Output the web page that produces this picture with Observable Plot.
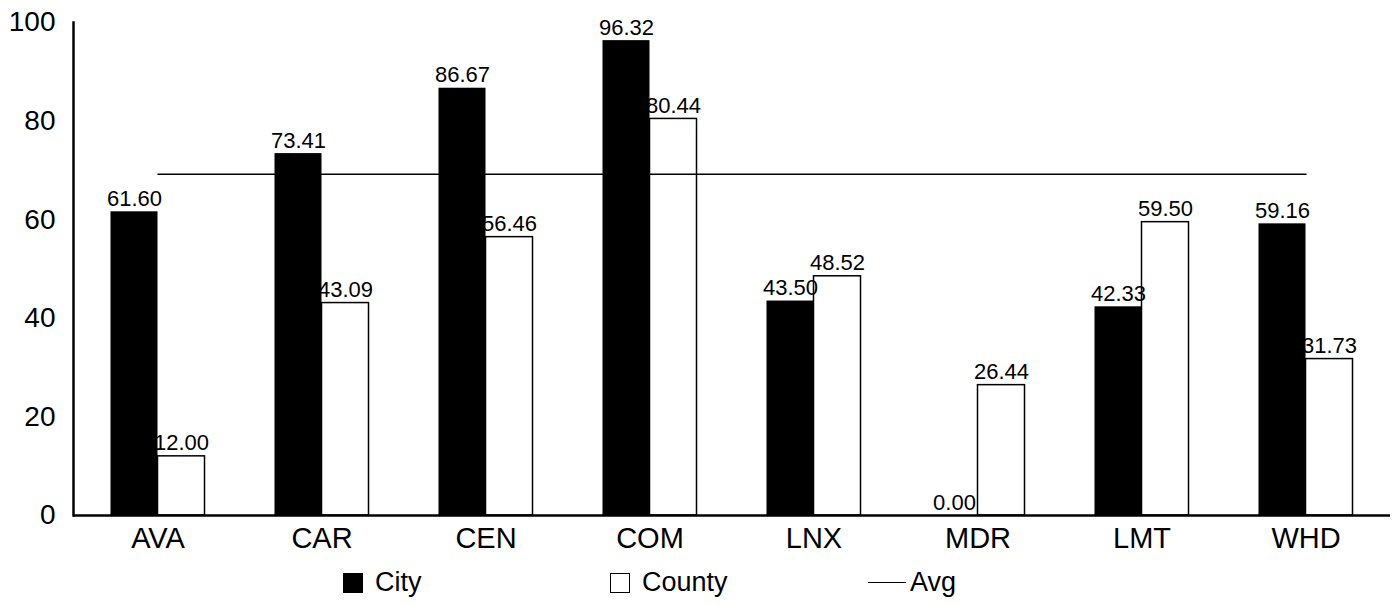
<!DOCTYPE html>
<html>
<head>
<meta charset="utf-8">
<script src="https://cdn.jsdelivr.net/npm/d3@7"></script>
<script src="https://cdn.jsdelivr.net/npm/@observablehq/plot@0.6"></script>
<style>
  html, body { margin: 0; padding: 0; background: #fff; }
  body { width: 1400px; height: 605px; overflow: hidden; font-family: Arial, "Liberation Sans", sans-serif; }
  #chart { position: relative; width: 1400px; height: 560px; }
  #legend { position: relative; width: 1400px; height: 45px; font-size: 27px; color: #000; }
  .item { position: absolute; top: 0; height: 45px; display: flex; align-items: center; }
  .sw { width: 20px; height: 20px; box-sizing: border-box; margin-right: 12px; }
  .ln { width: 38px; height: 0; border-top: 1.5px solid #000; margin-right: 4px; }
</style>
</head>
<body>
<div id="chart"></div>
<div id="legend"></div>
<script>
const categories = ["AVA", "CAR", "CEN", "COM", "LNX", "MDR", "LMT", "WHD"];
const cityValues = [61.60, 73.41, 86.67, 96.32, 43.50, 0.00, 42.33, 59.16];
const countyValues = [12.00, 43.09, 56.46, 80.44, 48.52, 26.44, 59.50, 31.73];
const avgValue = 69.2;
const yTicks = [0, 20, 40, 60, 80, 100];
const seriesNames = ["City", "County", "Avg"];

const city = categories.map((c, i) => ({category: c, value: cityValues[i]}));
const county = categories.map((c, i) => ({category: c, value: countyValues[i]}));
const avg = categories.map(c => ({category: c, value: avgValue}));

const half = 23.5;

const chart = Plot.plot({
  width: 1400,
  height: 560,
  marginLeft: 73,
  marginRight: 10,
  marginTop: 22,
  marginBottom: 45,
  style: {fontFamily: 'Arial, "Liberation Sans", sans-serif', color: "#000", background: "#fff"},
  x: {domain: categories, paddingInner: 0.7145, paddingOuter: 0.357, label: null},
  y: {domain: [0, 100], ticks: yTicks, label: null},
  marks: [
    Plot.barY(city, {x: "category", y: "value", dx: -half, fill: "#000"}),
    Plot.barY(county, {x: "category", y: "value", dx: half, fill: "#fff", stroke: "#000", strokeWidth: 1.5}),
    Plot.lineY(avg, {x: "category", y: "value", stroke: "#000", strokeWidth: 1.5}),
    Plot.text(city, {x: "category", y: "value", dx: -half, dy: -6, lineAnchor: "bottom", text: d => d.value.toFixed(2), fontSize: 22, fill: "#000"}),
    Plot.text(county, {x: "category", y: "value", dx: half, dy: -6, lineAnchor: "bottom", text: d => d.value.toFixed(2), fontSize: 22, fill: "#000"}),
    Plot.ruleY([0], {stroke: "#000", strokeWidth: 2.5}),
    Plot.frame({anchor: "left", stroke: "#000", strokeWidth: 2.5}),
    Plot.axisY({ticks: yTicks, tickSize: 0, tickPadding: 18, fontSize: 28, label: null}),
    Plot.axisX({tickSize: 0, tickPadding: 12, fontSize: 29, label: null})
  ]
});
document.getElementById("chart").appendChild(chart);

const legend = document.getElementById("legend");
const items = [
  {name: seriesNames[0], left: 343, kind: "fill"},
  {name: seriesNames[1], left: 610, kind: "empty"},
  {name: seriesNames[2], left: 868, kind: "line"}
];
for (const it of items) {
  const d = document.createElement("div");
  d.className = "item";
  d.style.left = it.left + "px";
  const s = document.createElement("span");
  if (it.kind === "line") {
    s.className = "ln";
  } else {
    s.className = "sw";
    s.style.background = it.kind === "fill" ? "#000" : "#fff";
    s.style.border = "1.5px solid #000";
  }
  d.appendChild(s);
  const t = document.createElement("span");
  t.textContent = it.name;
  d.appendChild(t);
  legend.appendChild(d);
}
</script>
</body>
</html>
